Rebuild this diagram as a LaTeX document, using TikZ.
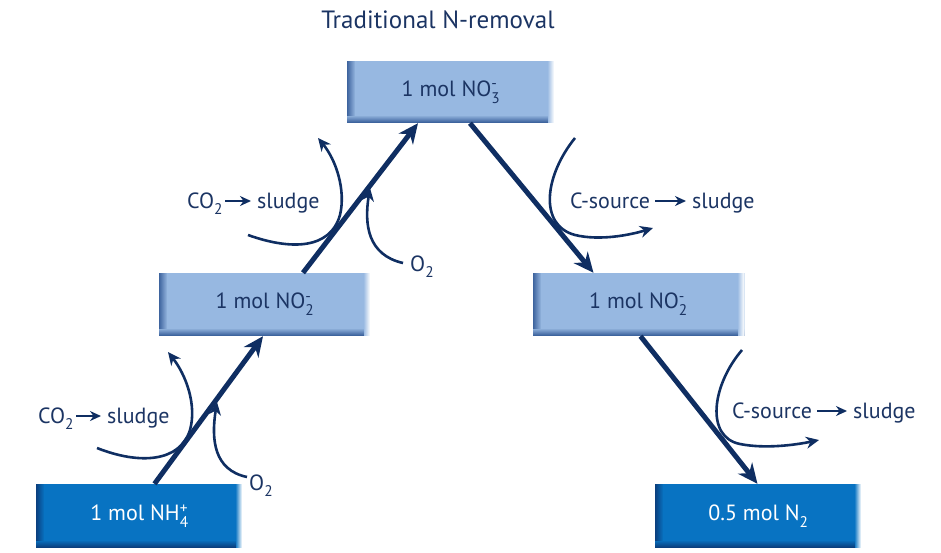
\documentclass[tikz,border=0pt]{standalone}
\usepackage{fontspec}
\usepackage{amsmath}
\setmainfont{PT Sans}
\usetikzlibrary{arrows.meta}
\definecolor{navy}{HTML}{1B3463}
\definecolor{arrowc}{HTML}{0F2E62}
\definecolor{lightfill}{HTML}{97B8E1}
\definecolor{lightedge}{HTML}{3E649E}
\definecolor{darkfill}{HTML}{0873C2}
\definecolor{darkedge}{HTML}{0A3F7E}
\newcommand\chem[2]{\ensuremath{{}_{\text{#1}}^{\text{#2}}}}
\newcommand\bevel[2]{%
  \foreach \i [evaluate=\i as \j using \i+1, evaluate=\i as \p using 100-12*\i] in {0,...,7}{
    \fill[#1!\p!#2] ([xshift=\i pt]path picture bounding box.south west) rectangle ([xshift=\j pt]path picture bounding box.north west);
  }
  \foreach \i [evaluate=\i as \j using \i+1, evaluate=\i as \p using 100-14*\i] in {0,...,6}{
    \fill[#1!\p!#2] ([yshift=\i pt]path picture bounding box.south west) rectangle ([yshift=\j pt]path picture bounding box.south east);
  }
  \foreach \i [evaluate=\i as \j using \i+1, evaluate=\i as \p using 100-15*\i] in {0,...,6}{
    \fill[white!\p!#2] ([xshift=-\i pt]path picture bounding box.south east) rectangle ([xshift=-\j pt]path picture bounding box.north east);
  }
}
\tikzset{
  boxbase/.style={inner sep=0pt, minimum width=208pt, minimum height=62pt, font=\fontsize{22}{26}\selectfont},
  lightbox/.style={boxbase, fill=lightfill, text=navy, path picture={\bevel{lightedge}{lightfill}}},
  darkbox/.style={boxbase, fill=darkfill, text=white, path picture={\bevel{darkedge}{darkfill}}},
  mainarr/.style={draw=arrowc, line width=5pt, -{Stealth[length=20pt,width=18pt]}},
  sidearr/.style={draw=arrowc, line width=2.6pt, -{Stealth[length=13pt,width=12pt]}},
  txtarr/.style={draw=arrowc, line width=1.8pt, -{Stealth[length=11pt,width=10pt]}},
  lbl/.style={inner sep=0pt, anchor=base west, text=navy, font=\fontsize{22}{26}\selectfont},
}
\begin{document}
\begin{tikzpicture}[x=1pt,y=-1pt]
\useasboundingbox (0,0) rectangle (941,552);

\node[text=navy, font=\fontsize{25}{30}\selectfont] (title) at (438,20) {Traditional N-removal};

\node[lightbox] (no3) at (451,92) {1 mol NO\chem{3}{-}};
\node[lightbox, minimum width=212pt, minimum height=63pt] (no2l) at (265,304.5) {1 mol NO\chem{2}{-}};
\node[lightbox, minimum width=212pt, minimum height=63pt] (no2r) at (638.5,304.5) {1 mol NO\chem{2}{-}};
\node[darkbox, minimum width=207pt, minimum height=64pt] (nh4) at (139.5,516) {1 mol NH\chem{4}{+}};
\node[darkbox, minimum width=207pt, minimum height=64pt] (n2) at (758.5,516) {0.5 mol N\chem{2}{}};

% main arrows
\draw[mainarr] ([xshift=15pt]nh4.north) -- ([xshift=-2pt]no2l.south);
\draw[mainarr] ([xshift=38pt]no2l.north) -- ([xshift=-33pt]no3.south);
\draw[mainarr] ([xshift=19pt]no3.south) -- ([xshift=-45pt]no2r.north);
\draw[mainarr] ([xshift=2pt]no2r.south) -- ([xshift=-1pt]n2.north);

% lower left side arrows
\coordinate (c1s) at (97,448);
\coordinate (c1e) at (168,352);
\draw[sidearr] (c1s) .. controls (140,465) and (180,462) .. (190,430) .. controls (197,405) and (186,375) .. (c1e);
\coordinate (o1s) at (247,477);
\coordinate (o1e) at (217,402);
\draw[sidearr] (o1s) .. controls (214,470) and (211,440) .. (o1e);

% upper left side arrows
\coordinate (c2s) at (248,235);
\coordinate (c2e) at (318,138);
\draw[sidearr] (c2s) .. controls (290,250) and (330,250) .. (340,215) .. controls (346,190) and (336,160) .. (c2e);
\coordinate (o2s) at (403,263);
\coordinate (o2e) at (370,188);
\draw[sidearr] (o2s) .. controls (368,255) and (364,225) .. (o2e);

% upper right side arrow
\coordinate (c3s) at (575,138);
\coordinate (c3e) at (653,228);
\draw[sidearr] (c3s) .. controls (545,175) and (538,225) .. (575,235) .. controls (600,241) and (630,235) .. (c3e);

% lower right side arrow
\coordinate (c4s) at (742,350);
\coordinate (c4e) at (819,440);
\draw[sidearr] (c4s) .. controls (712,385) and (705,437) .. (740,444) .. controls (765,449) and (795,445) .. (c4e);

% labels
\node[lbl] (co2a) at (38,423) {CO\chem{2}{}};
\node[lbl] (sla) at (107,423) {sludge};
\draw[txtarr] ([xshift=2pt,yshift=7pt]co2a.base east) -- ([xshift=-6pt,yshift=7pt]sla.base west);

\node[lbl] (co2b) at (187,208) {CO\chem{2}{}};
\node[lbl] (slb) at (257,208) {sludge};
\draw[txtarr] ([xshift=2pt,yshift=7pt]co2b.base east) -- ([xshift=-6pt,yshift=7pt]slb.base west);

\node[lbl] (csa) at (570,208) {C-source};
\node[lbl] (slc) at (692,208) {sludge};
\draw[txtarr] ([xshift=5pt,yshift=7pt]csa.base east) -- ([xshift=-6pt,yshift=7pt]slc.base west);

\node[lbl] (csb) at (732,418) {C-source};
\node[lbl] (sld) at (853,418) {sludge};
\draw[txtarr] ([xshift=5pt,yshift=7pt]csb.base east) -- ([xshift=-6pt,yshift=7pt]sld.base west);

\node[lbl] (o2a) at (249,490) {O\chem{2}{}};
\node[lbl] (o2b) at (410,271) {O\chem{2}{}};
\end{tikzpicture}
\end{document}
